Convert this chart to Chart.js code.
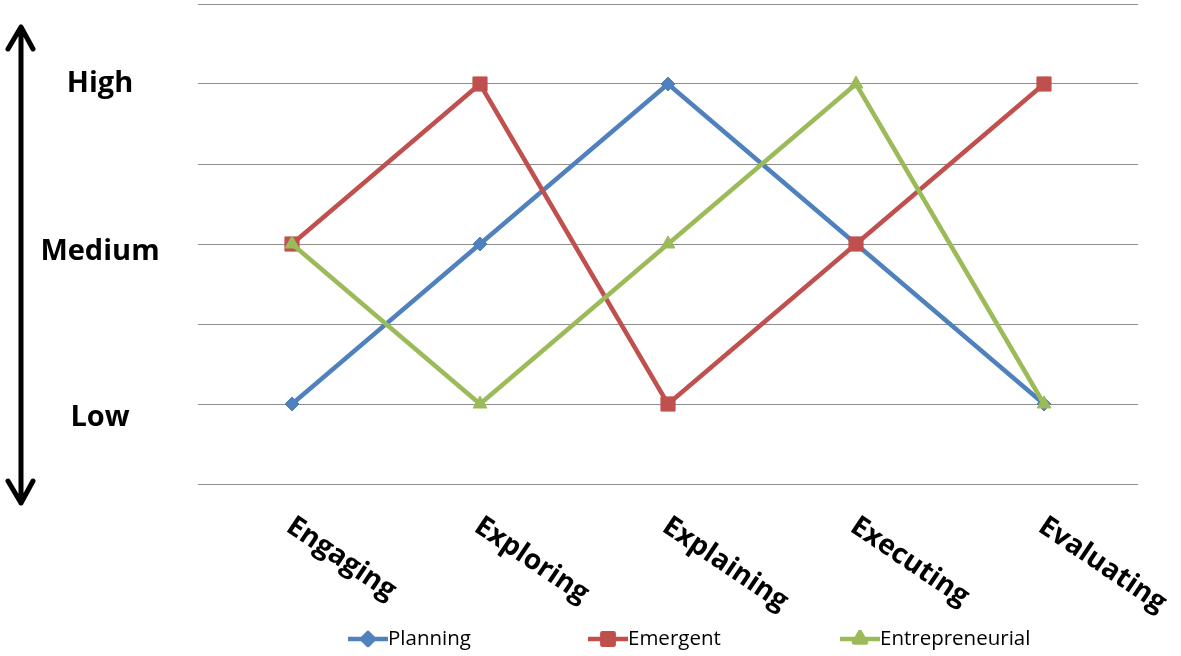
<!DOCTYPE html>
<html>
<head>
<meta charset="utf-8">
<script src="https://cdn.jsdelivr.net/npm/chart.js@4.4.0/dist/chart.umd.min.js"></script>
<style>
html,body{margin:0;padding:0;background:#fff;}
#wrap{width:1181px;height:656px;position:relative;}
</style>
</head>
<body>
<div id="wrap"><canvas id="c" width="1181" height="656"></canvas></div>
<script>
const categories = ['Engaging', 'Exploring', 'Explaining', 'Executing', 'Evaluating'];
const planning = [1, 3, 5, 3, 1];
const emergent = [3, 5, 1, 3, 5];
const entrepreneurial = [3, 1, 3, 5, 1];
const levelLabels = ['High', 'Medium', 'Low'];
const levelValues = [5, 3, 1];
const seriesNames = ['Planning', 'Emergent', 'Entrepreneurial'];

const BLUE = '#4F81BD', RED = '#C0504D', GREEN = '#9BBB59';
const FONT = '"Open Sans", Lato, sans-serif';

const decorPlugin = {
  id: 'decor',
  afterDraw(chart) {
    const ctx = chart.ctx;
    const x = chart.scales.x, y = chart.scales.y;
    ctx.save();
    // double arrow
    ctx.strokeStyle = '#000';
    ctx.lineWidth = 5;
    ctx.lineCap = 'round';
    ctx.lineJoin = 'round';
    ctx.beginPath();
    ctx.moveTo(21, 27); ctx.lineTo(21, 503);
    ctx.moveTo(8, 49); ctx.lineTo(21, 27); ctx.lineTo(33, 49);
    ctx.moveTo(8, 481); ctx.lineTo(21, 503); ctx.lineTo(33, 481);
    ctx.stroke();
    // level labels
    const offs = [0, 8, 14];
    ctx.fillStyle = '#000';
    ctx.font = 'bold 29px ' + FONT;
    ctx.textAlign = 'center';
    ctx.textBaseline = 'middle';
    levelLabels.forEach((t, i) => {
      ctx.fillText(t, 100, y.getPixelForValue(levelValues[i]) + offs[i]);
    });
    // category labels rotated clockwise
    ctx.font = 'bold 28px ' + FONT;
    ctx.textAlign = 'left';
    ctx.textBaseline = 'top';
    categories.forEach((t, i) => {
      const px = x.getPixelForValue(i);
      ctx.save();
      ctx.translate(px + 5, 512);
      ctx.rotate(34 * Math.PI / 180);
      ctx.fillText(t, 0, 0);
      ctx.restore();
    });
    // legend
    const colors = [BLUE, RED, GREEN];
    const styles = ['rectRot', 'rect', 'triangle'];
    const radii = [6, 8, 7];
    const starts = [348, 588, 840];
    ctx.font = '20.5px ' + FONT;
    ctx.textBaseline = 'middle';
    ctx.textAlign = 'left';
    const ly = 639;
    seriesNames.forEach((n, i) => {
      const sx = starts[i];
      ctx.strokeStyle = colors[i];
      ctx.lineWidth = 4.5;
      ctx.lineCap = 'butt';
      ctx.beginPath();
      ctx.moveTo(sx, ly); ctx.lineTo(sx + 40, ly);
      ctx.stroke();
      Chart.helpers.drawPoint(ctx, {pointStyle: styles[i], radius: radii[i], borderWidth: 1}, sx + 20, ly);
      ctx.fillStyle = colors[i];
      ctx.fill();
      ctx.fillStyle = '#000';
      ctx.fillText(n, sx + 40, ly);
    });
    ctx.restore();
  }
};

const mk = (label, data, color, style, r, order) => ({
  label, data, order,
  borderColor: color,
  backgroundColor: color,
  pointBackgroundColor: color,
  pointBorderColor: color,
  borderWidth: 4.5,
  pointStyle: style,
  pointRadius: r,
  pointHoverRadius: r,
  pointBorderWidth: 1,
  tension: 0,
  clip: false
});

new Chart(document.getElementById('c'), {
  type: 'line',
  data: {
    labels: categories,
    datasets: [
      mk(seriesNames[0], planning, BLUE, 'rectRot', 7, 3),
      mk(seriesNames[1], emergent, RED, 'rect', 10, 2),
      mk(seriesNames[2], entrepreneurial, GREEN, 'triangle', 8, 1)
    ]
  },
  options: {
    responsive: false,
    animation: false,
    layout: {autoPadding: false, padding: {left: 198, right: 43, top: 4, bottom: 172}},
    plugins: {legend: {display: false}, tooltip: {enabled: false}},
    scales: {
      x: {
        offset: true,
        grid: {display: false, offset: true, drawTicks: false},
        border: {display: false},
        ticks: {display: false, padding: 0},
        afterFit(s) { s.height = 0; s.paddingTop = 0; s.paddingBottom = 0; }
      },
      y: {
        min: 0, max: 6,
        ticks: {display: false, stepSize: 1, padding: 0},
        grid: {color: '#8c8c8c', lineWidth: 1, drawTicks: false},
        border: {display: false},
        afterFit(s) { s.width = 0; s.paddingTop = 0; s.paddingBottom = 0; }
      }
    }
  },
  plugins: [decorPlugin]
});
</script>
</body>
</html>
